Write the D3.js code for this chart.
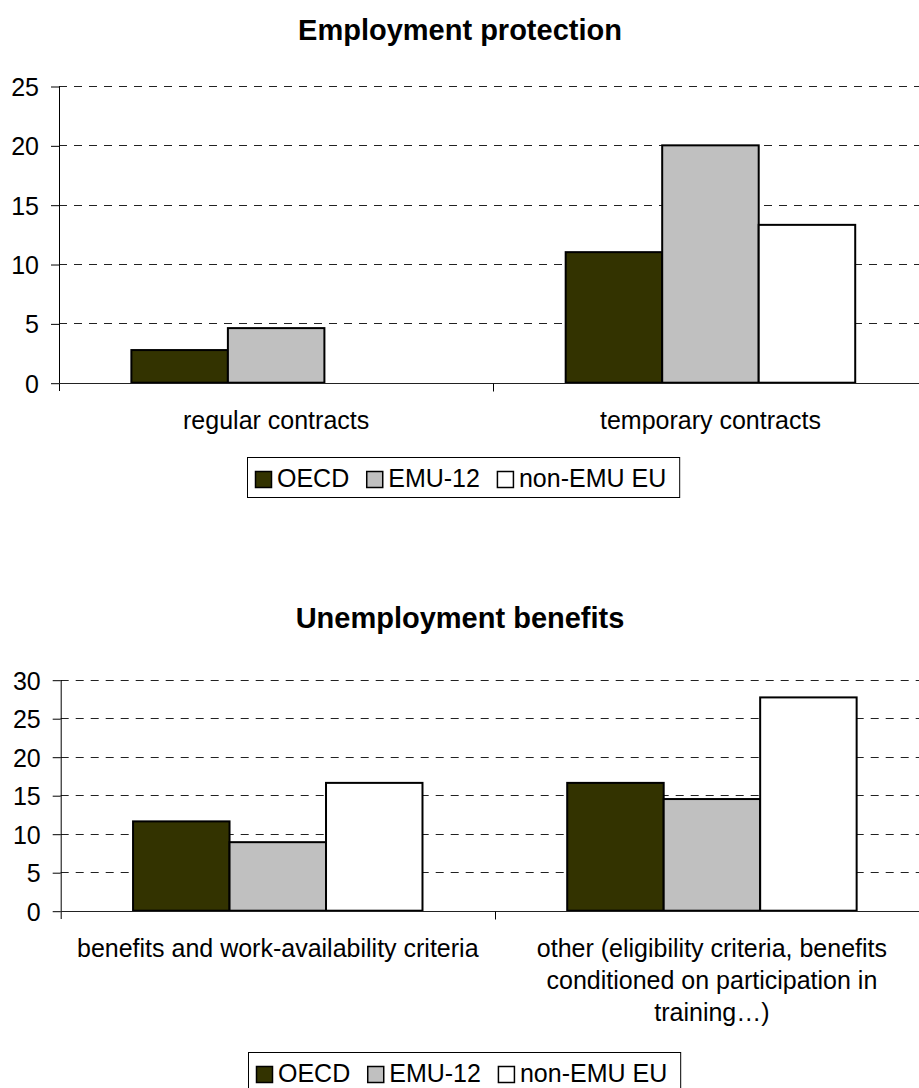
<!DOCTYPE html>
<html><head><meta charset="utf-8">
<script src="https://cdn.jsdelivr.net/npm/d3@7"></script>
<style>
html,body{margin:0;padding:0;background:#fff;}
svg text{font-family:"Liberation Sans",Arial,sans-serif;fill:#000;}
</style></head>
<body>
<svg id="chart" width="919" height="1088"></svg>
<script>
// ---- data ----
const seriesNames = ["OECD", "EMU-12", "non-EMU EU"];
const seriesColors = ["#333300", "#C0C0C0", "#FFFFFF"];

const title1 = "Employment protection";
const categories1 = ["regular contracts", "temporary contracts"];
const oecd1 = [2.75, 11.0];
const emu1 = [4.6, 20.0];
const nonEmu1 = [0, 13.3];
const yTicks1 = [0, 5, 10, 15, 20, 25];

const title2 = "Unemployment benefits";
const categories2 = ["benefits and work-availability criteria",
  "other (eligibility criteria, benefits\nconditioned on participation in\ntraining…)"];
const oecd2 = [11.6, 16.6];
const emu2 = [8.9, 14.5];
const nonEmu2 = [16.6, 27.7];
const yTicks2 = [0, 5, 10, 15, 20, 25, 30];

const svg = d3.select("#chart");

function drawChart(cfg) {
  const g = svg.append("g");
  const y = d3.scaleLinear().domain([0, cfg.yMax]).range([cfg.y0, cfg.yTop]);
  const x0 = d3.scaleBand().domain(cfg.categories).range([cfg.left, cfg.right]).padding(0);
  const x1 = d3.scaleBand().domain(seriesNames).range([0, x0.bandwidth()]).paddingInner(0).paddingOuter(0.75);
  const color = d3.scaleOrdinal().domain(seriesNames).range(seriesColors);

  // title
  g.append("text").attr("x", 460).attr("y", cfg.titleY)
    .attr("text-anchor", "middle").attr("font-weight", "bold").attr("font-size", 29)
    .text(cfg.title);

  // gridlines
  g.append("g").selectAll("line").data(cfg.ticks.filter(d => d > 0)).join("line")
    .attr("x1", cfg.left).attr("x2", cfg.right)
    .attr("y1", d => Math.round(y(d)) + 0.5).attr("y2", d => Math.round(y(d)) + 0.5)
    .attr("stroke", "#222").attr("stroke-width", 1).attr("stroke-dasharray", "8,7");

  // y axis
  const yAxis = d3.axisLeft(y).tickValues(cfg.ticks).tickSize(8).tickPadding(12).tickFormat(d3.format("d"));
  const ya = g.append("g").attr("transform", `translate(${cfg.left},0.5)`).call(yAxis);
  ya.select(".domain").remove();
  ya.selectAll(".tick line").attr("stroke", "#000");
  ya.selectAll(".tick text").attr("font-size", 25).attr("font-family", "Liberation Sans, Arial, sans-serif").attr("dy", "0.36em");
  g.append("line").attr("x1", cfg.left + 0.5).attr("x2", cfg.left + 0.5)
    .attr("y1", Math.round(y(cfg.yMax))).attr("y2", Math.round(cfg.y0) + 8)
    .attr("stroke", "#000");

  // bars
  const rows = cfg.categories.map((c, i) => ({cat: c, vals: cfg.series.map((s, j) => ({name: seriesNames[j], v: s[i]}))}));
  const grp = g.append("g").selectAll("g").data(rows).join("g")
    .attr("transform", d => `translate(${x0(d.cat)},0)`);
  grp.selectAll("rect").data(d => d.vals.filter(v => v.v > 0)).join("rect")
    .attr("x", d => x1(d.name)).attr("width", x1.bandwidth())
    .attr("y", d => y(d.v)).attr("height", d => y(0) - y(d.v))
    .attr("fill", d => color(d.name)).attr("stroke", "#000").attr("stroke-width", 2);

  // x axis line and ticks
  const yb = Math.round(cfg.y0) + 0.5;
  g.append("line").attr("x1", cfg.left).attr("x2", cfg.right).attr("y1", yb).attr("y2", yb).attr("stroke", "#222");
  const bounds = cfg.categories.map(c => x0(c)).concat([x0(cfg.categories[cfg.categories.length - 1]) + x0.bandwidth()]);
  g.append("g").selectAll("line").data(bounds.slice(1)).join("line")
    .attr("x1", d => Math.round(d) + 0.5).attr("x2", d => Math.round(d) + 0.5)
    .attr("y1", yb).attr("y2", yb + 8).attr("stroke", "#000");

  // category labels
  const lab = g.append("g").selectAll("text").data(cfg.categories).join("text")
    .attr("text-anchor", "middle").attr("font-size", 25)
    .attr("x", d => x0(d) + x0.bandwidth() / 2).attr("y", cfg.labelY);
  lab.each(function(d) {
    const t = d3.select(this);
    d.split("\n").forEach((line, k) => {
      t.append("tspan").attr("x", x0(d) + x0.bandwidth() / 2).attr("dy", k === 0 ? 0 : 32).text(line);
    });
  });

  // legend
  const lg = g.append("g");
  const box = lg.append("rect").attr("x", cfg.legendX + 0.5).attr("y", cfg.legendY + 0.5)
    .attr("height", cfg.legendH).attr("fill", "#fff").attr("stroke", "#000");
  let cx = cfg.legendX + 8;
  seriesNames.forEach((n, i) => {
    lg.append("rect").attr("x", cx + 0.5).attr("y", cfg.legendY + 14.5).attr("width", 16).attr("height", 16)
      .attr("fill", color(n)).attr("stroke", "#000").attr("stroke-width", 1.5);
    const t = lg.append("text").attr("x", cx + 22).attr("y", cfg.legendY + 30).attr("font-size", 25).text(n);
    cx += 22 + t.node().getComputedTextLength() + (i < seriesNames.length - 1 ? 17 : 13);
  });
  box.attr("width", cx - cfg.legendX);
}

drawChart({title: title1, titleY: 40, categories: categories1, series: [oecd1, emu1, nonEmu1],
  yMax: 25, ticks: yTicks1, y0: 382.7, yTop: 86, left: 59, right: 927.6, labelY: 429,
  legendX: 247, legendY: 457, legendH: 40});

drawChart({title: title2, titleY: 628, categories: categories2, series: [oecd2, emu2, nonEmu2],
  yMax: 30, ticks: yTicks2, y0: 910.7, yTop: 679.7, left: 60.7, right: 929, labelY: 957,
  legendX: 248, legendY: 1052, legendH: 40});
</script>
</body></html>
